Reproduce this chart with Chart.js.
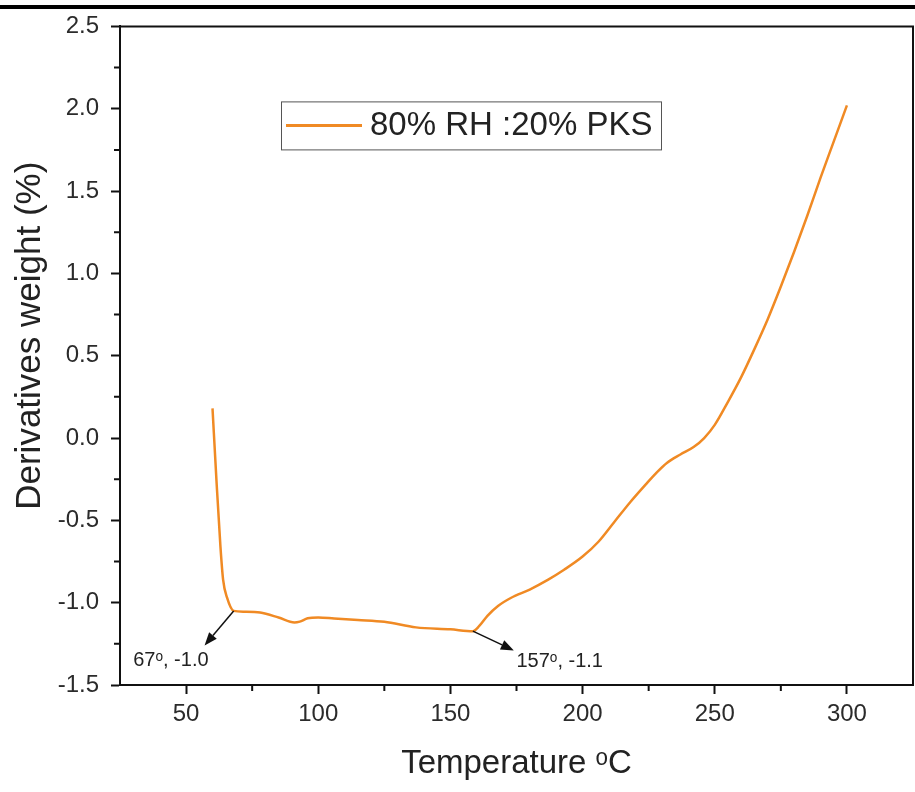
<!DOCTYPE html>
<html lang="en">
  <head>
    <meta charset="UTF-8" />
    <title>Derivatives weight - 80% RH :20% PKS</title>
    <script src="https://cdn.jsdelivr.net/npm/chart.js@4.4.1/dist/chart.umd.min.js"></script>
    <style>
      body { margin: 0; background: #fff; }
      .wrap { position: relative; width: 915px; height: 792px; }
      .topband { position: absolute; left: 0; top: 5px; width: 915px; height: 4px; background: #000; }
    </style>
  </head>
  <body>
    <div class="wrap">
      <canvas id="myChart" width="915" height="792"></canvas>
      <div class="topband"></div>
    </div>
    <script>
      // data
      const seriesName = "80% RH :20% PKS";
      const tempC = [60, 61.5, 63, 64, 65.5, 68, 72, 78, 85, 91, 93, 96, 100, 106, 115, 125, 137, 150, 158.5,
        161, 164, 168, 173, 180, 187, 193, 200, 206, 212, 218, 224, 228, 232, 237, 242, 246, 250,
        255, 260, 265, 270, 275, 280, 285, 290, 295, 300];
      const derivWeight = [0.18, -0.26, -0.66, -0.86, -0.97, -1.05, -1.055, -1.06, -1.09, -1.12, -1.115, -1.095, -1.09, -1.096, -1.105, -1.116, -1.15, -1.162, -1.173,
        -1.14, -1.08, -1.02, -0.97, -0.92, -0.86, -0.8, -0.72, -0.63, -0.51, -0.39, -0.28, -0.21, -0.15, -0.1, -0.055, 0.0, 0.08,
        0.22, 0.37, 0.54, 0.72, 0.92, 1.13, 1.35, 1.58, 1.8, 2.02];

      // arrow annotations (data units)
      const annoText = ["67\u1D52, -1.0", "157\u1D52, -1.1"];
      const annoFrom = [[68, -1.05], [158.5, -1.173]];
      const annoTip = [[57, -1.26], [174, -1.29]];
      const annoLabelAt = [[30, -1.35], [175, -1.355]];

      const xTitle = "Temperature \u1D52C";
      const yTitle = "Derivatives weight (%)";

      const lineColor = "#f08a24";
      const fontFam = "'Liberation Sans', Arial, 'DejaVu Sans', sans-serif";

      function drawArrow(ctx, x1, y1, x2, y2) {
        let ang = Math.atan2(y2 - y1, x2 - x1);
        let hl = 13, hw = 5;
        let bx = x2 - hl * Math.cos(ang), by = y2 - hl * Math.sin(ang);
        ctx.beginPath();
        ctx.moveTo(x1, y1);
        ctx.lineTo(bx, by);
        ctx.stroke();
        ctx.beginPath();
        ctx.moveTo(x2, y2);
        ctx.lineTo(bx + hw * Math.sin(ang), by - hw * Math.cos(ang));
        ctx.lineTo(bx - hw * Math.sin(ang), by + hw * Math.cos(ang));
        ctx.closePath();
        ctx.fill();
      }

      const extras = {
        id: "extras",
        afterDraw(chart) {
          const ctx = chart.ctx;
          const a = chart.chartArea;
          const xs = chart.scales.x, ys = chart.scales.y;
          ctx.save();

          // top and right frame
          ctx.strokeStyle = "#111";
          ctx.lineWidth = 2;
          ctx.beginPath();
          ctx.moveTo(a.left, a.top);
          ctx.lineTo(a.right, a.top);
          ctx.lineTo(a.right, a.bottom);
          ctx.stroke();

          // minor ticks
          ctx.beginPath();
          for (let v = 75; v < 325; v += 50) {
            let px = xs.getPixelForValue(v);
            ctx.moveTo(px, a.bottom);
            ctx.lineTo(px, a.bottom + 6);
          }
          for (let v = -1.25; v < 2.5; v += 0.5) {
            let py = ys.getPixelForValue(v);
            ctx.moveTo(a.left - 6, py);
            ctx.lineTo(a.left, py);
          }
          ctx.stroke();

          // legend box
          let lx = a.left + 161, ly = a.top + 75;
          ctx.lineWidth = 1;
          ctx.strokeStyle = "#555";
          ctx.strokeRect(lx + 0.5, ly + 0.5, 380, 48);
          ctx.strokeStyle = lineColor;
          ctx.lineWidth = 3;
          ctx.beginPath();
          ctx.moveTo(lx + 5, ly + 24);
          ctx.lineTo(lx + 81, ly + 24);
          ctx.stroke();
          ctx.fillStyle = "#222";
          ctx.font = "33px " + fontFam;
          ctx.textAlign = "left";
          ctx.textBaseline = "middle";
          ctx.fillText(seriesName, lx + 89, ly + 25);

          // arrows + labels
          ctx.strokeStyle = "#111";
          ctx.fillStyle = "#111";
          ctx.lineWidth = 1.5;
          annoFrom.forEach((f, i) => {
            drawArrow(ctx, xs.getPixelForValue(f[0]), ys.getPixelForValue(f[1]),
              xs.getPixelForValue(annoTip[i][0]), ys.getPixelForValue(annoTip[i][1]));
          });
          ctx.fillStyle = "#222";
          ctx.font = "20px " + fontFam;
          annoText.forEach((t, i) => {
            ctx.fillText(t, xs.getPixelForValue(annoLabelAt[i][0]), ys.getPixelForValue(annoLabelAt[i][1]));
          });

          // axis titles
          ctx.font = "33px " + fontFam;
          ctx.textAlign = "center";
          ctx.fillText(xTitle, (a.left + a.right) / 2, a.bottom + 79);
          ctx.font = "35px " + fontFam;
          ctx.translate(30, (a.top + a.bottom) / 2 - 20);
          ctx.rotate(-Math.PI / 2);
          ctx.fillText(yTitle, 0, 0);

          ctx.restore();
        },
      };

      function isMajor(v, step) {
        return Math.abs(v / step - Math.round(v / step)) < 1e-6;
      }

      new Chart("myChart", {
        type: "line",
        data: {
          datasets: [
            {
              label: seriesName,
              data: tempC.map((t, i) => ({ x: t, y: derivWeight[i] })),
              borderColor: lineColor,
              borderWidth: 2.5,
              pointRadius: 0,
              cubicInterpolationMode: "monotone",
            },
          ],
        },
        options: {
          responsive: false,
          animation: false,
          layout: { padding: { left: 0, top: 25, right: 2, bottom: 0 } },
          plugins: { legend: { display: false }, tooltip: { enabled: false } },
          scales: {
            x: {
              type: "linear",
              min: 25,
              max: 325,
              afterFit: (s) => { s.height = 107; s.paddingRight = 0; s.paddingLeft = 0; },
              border: { color: "#111", width: 2 },
              grid: {
                drawOnChartArea: false,
                tickLength: 9,
                tickWidth: 2,
                tickColor: (c) => (c.tick && isMajor(c.tick.value, 50) ? "#111" : "rgba(0,0,0,0)"),
              },
              ticks: {
                stepSize: 25,
                autoSkip: false,
                maxRotation: 0,
                padding: 6,
                color: "#2b2b2b",
                font: { size: 24, family: fontFam },
                callback: (v) => (isMajor(v, 50) && v >= 50 && v <= 300 ? v : ""),
              },
            },
            y: {
              min: -1.5,
              max: 2.5,
              afterFit: (s) => { s.width = 120; },
              border: { color: "#111", width: 2 },
              grid: {
                drawOnChartArea: false,
                tickLength: 9,
                tickWidth: 2,
                tickColor: (c) => (c.tick && isMajor(c.tick.value, 0.5) ? "#111" : "rgba(0,0,0,0)"),
              },
              ticks: {
                stepSize: 0.25,
                autoSkip: false,
                padding: 12,
                color: "#2b2b2b",
                font: { size: 24, family: fontFam },
                callback: (v) => (isMajor(v, 0.5) ? v.toFixed(1) : ""),
              },
            },
          },
        },
        plugins: [extras],
      });
    </script>
  </body>
</html>
